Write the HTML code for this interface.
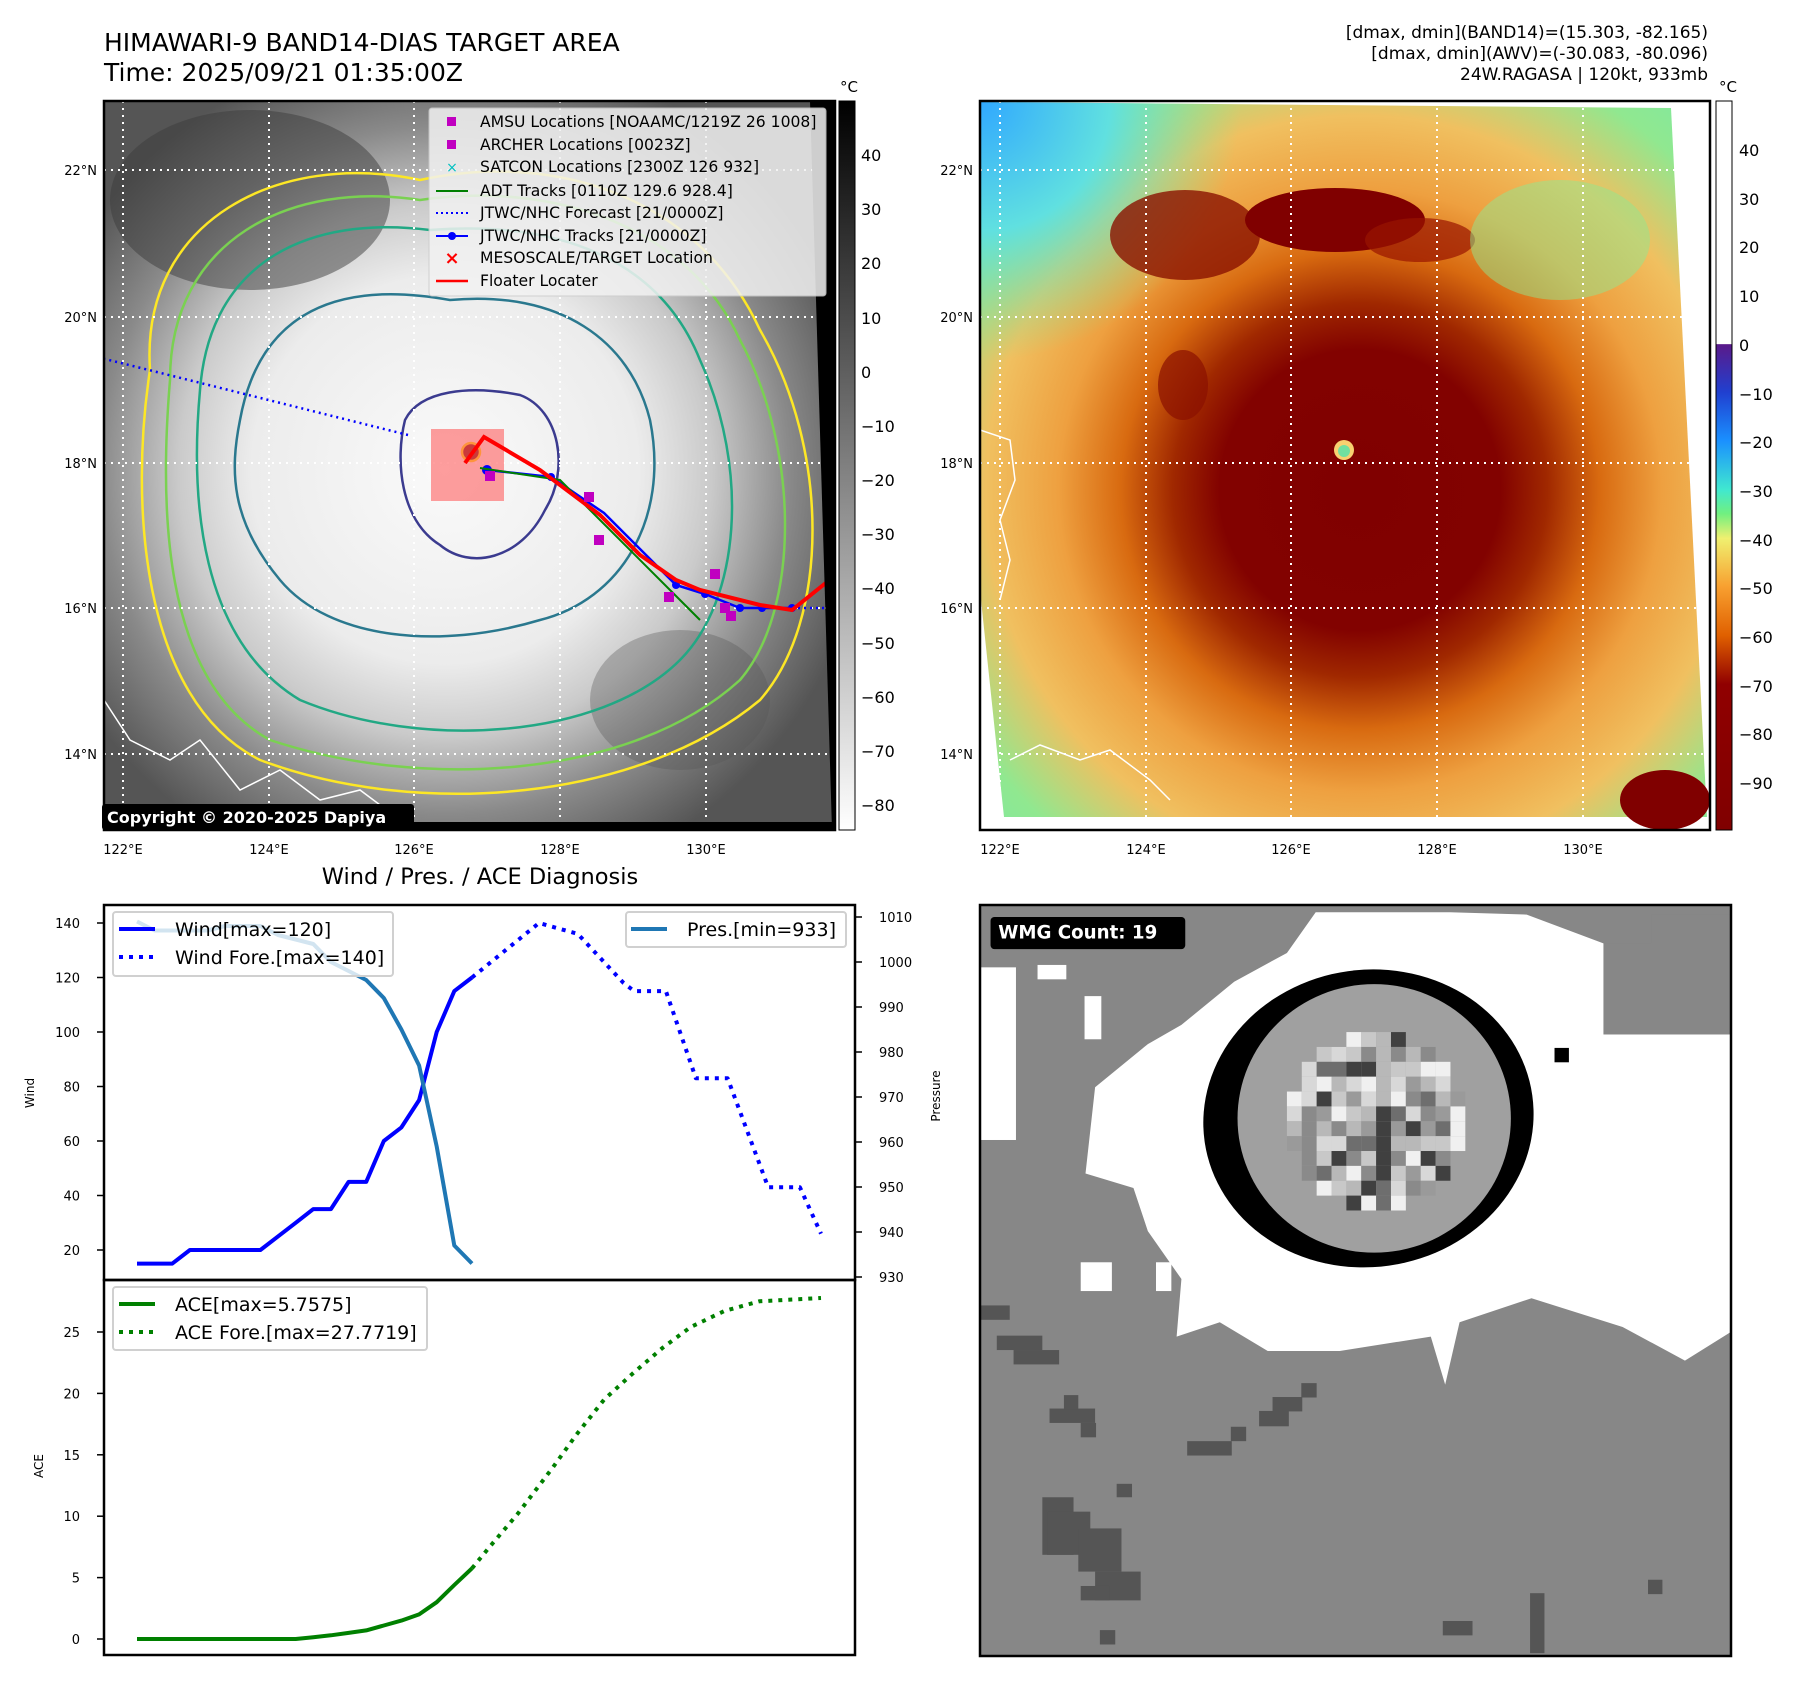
<!DOCTYPE html>
<html><head><meta charset="utf-8">
<style>
html,body{margin:0;padding:0;background:#fff;}
body{width:1797px;height:1690px;position:relative;overflow:hidden;font-family:"DejaVu Sans","Liberation Sans",sans-serif;}
svg{position:absolute;left:0;top:0;}
</style></head>
<body>
<svg width="1797" height="1690" viewBox="0 0 1797 1690" xmlns="http://www.w3.org/2000/svg" font-family="DejaVu Sans, Liberation Sans, sans-serif">
<defs>
  <clipPath id="c1"><rect x="104" y="101" width="731" height="729"/></clipPath>
  <clipPath id="c2"><rect x="980" y="101" width="730" height="729"/></clipPath>
  <radialGradient id="g1" cx="445" cy="470" r="430" gradientUnits="userSpaceOnUse">
    <stop offset="0" stop-color="#fafafa"/><stop offset="0.45" stop-color="#ececec"/>
    <stop offset="0.62" stop-color="#cacaca"/><stop offset="0.8" stop-color="#8a8a8a"/>
    <stop offset="1" stop-color="#555"/>
  </radialGradient>
  <radialGradient id="g2" cx="1360" cy="490" r="520" gradientUnits="userSpaceOnUse">
    <stop offset="0" stop-color="#800000"/><stop offset="0.27" stop-color="#820200"/>
    <stop offset="0.36" stop-color="#a02800"/><stop offset="0.46" stop-color="#d86a10"/>
    <stop offset="0.58" stop-color="#eea040"/><stop offset="0.72" stop-color="#f0c060"/>
    <stop offset="0.88" stop-color="#90e890"/><stop offset="1" stop-color="#80e8a0"/>
  </radialGradient>
  <linearGradient id="cb1" x1="0" y1="0" x2="0" y2="1">
    <stop offset="0" stop-color="#000"/><stop offset="1" stop-color="#fff"/>
  </linearGradient>
  <linearGradient id="cb2" x1="0" y1="101" x2="0" y2="830" gradientUnits="userSpaceOnUse">
    <stop offset="0" stop-color="#ffffff"/><stop offset="0.333" stop-color="#ffffff"/>
    <stop offset="0.334" stop-color="#5a1a8a"/><stop offset="0.40" stop-color="#2040d0"/>
    <stop offset="0.466" stop-color="#1a90ff"/><stop offset="0.533" stop-color="#40e8d0"/>
    <stop offset="0.566" stop-color="#70f080"/><stop offset="0.60" stop-color="#f0f070"/>
    <stop offset="0.666" stop-color="#f8a030"/><stop offset="0.733" stop-color="#e06000"/>
    <stop offset="0.80" stop-color="#900000"/><stop offset="1" stop-color="#800000"/>
  </linearGradient>
  <radialGradient id="tl2" cx="980" cy="101" r="260" gradientUnits="userSpaceOnUse">
    <stop offset="0" stop-color="#30a8ff"/><stop offset="0.5" stop-color="#60e0e0"/><stop offset="1" stop-color="#80e890" stop-opacity="0"/>
  </radialGradient>
</defs>

<!-- Titles -->
<text x="104" y="51" font-size="25" fill="#000">HIMAWARI-9 BAND14-DIAS TARGET AREA</text>
<text x="104" y="81" font-size="25" fill="#000">Time: 2025/09/21 01:35:00Z</text>
<g font-size="17" text-anchor="end" fill="#000">
  <text x="1708" y="38">[dmax, dmin](BAND14)=(15.303, -82.165)</text>
  <text x="1708" y="59">[dmax, dmin](AWV)=(-30.083, -80.096)</text>
  <text x="1708" y="80">24W.RAGASA | 120kt, 933mb</text>
</g>

<!-- MAP 1 -->
<g clip-path="url(#c1)">
  <rect x="104" y="101" width="731" height="729" fill="url(#g1)"/>
  <ellipse cx="250" cy="200" rx="140" ry="90" fill="#3c3c3c" opacity="0.5"/>
  <ellipse cx="680" cy="700" rx="90" ry="70" fill="#555" opacity="0.35"/>
  <g fill="none" stroke-width="2.5">
    <path d="M150,370 C140,220 280,150 420,180 C560,150 700,200 760,330 C830,450 830,620 760,700 C640,800 420,820 260,760 C140,700 130,500 150,370Z" stroke="#fde725"/>
    <path d="M170,380 C170,240 290,180 420,200 C560,180 690,230 740,340 C800,450 800,610 740,680 C630,780 420,790 270,740 C160,680 160,500 170,380Z" stroke="#7ad151"/>
    <path d="M200,390 C210,260 310,215 430,230 C560,220 660,260 700,360 C750,470 740,600 680,660 C600,740 420,750 300,700 C200,640 190,500 200,390Z" stroke="#22a884"/>
    <path d="M240,420 C260,310 340,280 450,300 C560,290 630,340 650,420 C670,520 620,600 540,620 C440,650 330,640 280,580 C230,520 230,470 240,420Z" stroke="#2a788e"/>
    <path d="M405,420 C420,390 470,385 520,395 C560,410 570,470 545,510 C520,560 470,570 440,545 C400,520 395,460 405,420Z" stroke="#3b3b8f"/>
    <circle cx="471" cy="452" r="9" stroke="#fde725" fill="#8b2020"/>
  </g>
  <g stroke="#fff" stroke-width="2" stroke-dasharray="2,5">
    <line x1="123" y1="101" x2="123" y2="830"/><line x1="269" y1="101" x2="269" y2="830"/>
    <line x1="414" y1="101" x2="414" y2="830"/><line x1="560" y1="101" x2="560" y2="830"/>
    <line x1="706" y1="101" x2="706" y2="830"/>
    <line x1="104" y1="170" x2="835" y2="170"/><line x1="104" y1="317" x2="835" y2="317"/>
    <line x1="104" y1="463" x2="835" y2="463"/><line x1="104" y1="608" x2="835" y2="608"/>
    <line x1="104" y1="754" x2="835" y2="754"/>
  </g>
  <rect x="431" y="429" width="73" height="72" fill="#ff5050" opacity="0.55"/>
  <polyline points="408,435 105,359" fill="none" stroke="#0000ff" stroke-width="2.5" stroke-dasharray="2,4"/>
  <polyline points="792,608 835,608" fill="none" stroke="#0000ff" stroke-width="2.5" stroke-dasharray="2,4"/>
  <polyline points="487,470 551,477 604,513 676,585 705,594 740,608 762,608 792,608" fill="none" stroke="#0000ff" stroke-width="2.5"/>
  <g fill="#0000ff">
    <circle cx="487" cy="470" r="5"/><circle cx="551" cy="477" r="4"/><circle cx="676" cy="585" r="4"/><circle cx="705" cy="594" r="4"/><circle cx="740" cy="608" r="4"/><circle cx="762" cy="608" r="4"/><circle cx="792" cy="608" r="4"/>
  </g>
  <polyline points="480,468 560,480 600,520 670,590 700,620" fill="none" stroke="#008000" stroke-width="2"/>
  <polyline points="465,463 484,437 540,470 600,515 640,555 676,580 700,590 760,605 792,610 832,578" fill="none" stroke="#ff0000" stroke-width="4"/>
  <g fill="#c000c0">
    <rect x="584" y="492" width="10" height="10"/><rect x="594" y="535" width="10" height="10"/><rect x="664" y="592" width="10" height="10"/><rect x="710" y="569" width="10" height="10"/><rect x="720" y="603" width="10" height="10"/><rect x="726" y="611" width="10" height="10"/><rect x="485" y="471" width="10" height="10"/>
  </g>
  <polygon points="810,101 835,101 835,830 832,830" fill="#000"/>
  <rect x="104" y="822" width="731" height="8" fill="#000"/>
  <polyline points="104,700 130,740 170,760 200,740 240,790 280,770 320,800 360,790 400,820" fill="none" stroke="#fff" stroke-width="1.5"/>
</g>
<rect x="104" y="101" width="731" height="729" fill="none" stroke="#000" stroke-width="2.5"/>
<g>
  <rect x="429" y="108" width="397" height="188" rx="3" fill="#f2f2f2" opacity="0.85" stroke="#ccc"/>
  <g font-size="15.6" fill="#000">
    <rect x="447" y="117" width="9" height="9" fill="#c000c0"/><text x="480" y="127">AMSU Locations [NOAAMC/1219Z 26 1008]</text>
    <rect x="447" y="140" width="9" height="9" fill="#c000c0"/><text x="480" y="150">ARCHER Locations [0023Z]</text>
    <text x="452" y="172" font-size="14" fill="#00c0c0" text-anchor="middle">×</text><text x="480" y="172">SATCON Locations [2300Z 126 932]</text>
    <line x1="436" y1="191" x2="468" y2="191" stroke="#008000" stroke-width="2"/><text x="480" y="196">ADT Tracks [0110Z 129.6 928.4]</text>
    <line x1="436" y1="213" x2="468" y2="213" stroke="#0000ff" stroke-width="2" stroke-dasharray="2,3"/><text x="480" y="218">JTWC/NHC Forecast [21/0000Z]</text>
    <line x1="436" y1="236" x2="468" y2="236" stroke="#0000ff" stroke-width="2"/><circle cx="452" cy="236" r="4" fill="#0000ff"/><text x="480" y="241">JTWC/NHC Tracks [21/0000Z]</text>
    <text x="452" y="264" font-size="18" font-weight="bold" fill="#ff0000" text-anchor="middle">×</text><text x="480" y="263">MESOSCALE/TARGET Location</text>
    <line x1="436" y1="281" x2="468" y2="281" stroke="#ff0000" stroke-width="2.5"/><text x="480" y="286">Floater Locater</text>
  </g>
</g>
<g>
  <rect x="102" y="804" width="312" height="26" rx="3" fill="#000"/>
  <text x="107" y="823" font-size="16" font-weight="bold" fill="#fff">Copyright © 2020-2025 Dapiya</text>
</g>
<g font-size="13" fill="#000" text-anchor="end">
  <text x="97" y="175">22°N</text><text x="97" y="322">20°N</text><text x="97" y="468">18°N</text><text x="97" y="613">16°N</text><text x="97" y="759">14°N</text>
</g>
<g font-size="13" fill="#000" text-anchor="middle">
  <text x="123" y="854">122°E</text><text x="269" y="854">124°E</text><text x="414" y="854">126°E</text><text x="560" y="854">128°E</text><text x="706" y="854">130°E</text>
</g>
<g>
  <rect x="839" y="101" width="16" height="729" fill="url(#cb1)" stroke="#000" stroke-width="1"/>
  <text x="849" y="92" font-size="15" text-anchor="middle">°C</text>
  <g font-size="16" fill="#000">
    <text x="861" y="161">40</text><text x="861" y="215">30</text><text x="861" y="269">20</text><text x="861" y="324">10</text><text x="861" y="378">0</text>
    <text x="861" y="432">−10</text><text x="861" y="486">−20</text><text x="861" y="540">−30</text><text x="861" y="594">−40</text>
    <text x="861" y="649">−50</text><text x="861" y="703">−60</text><text x="861" y="757">−70</text><text x="861" y="811">−80</text>
  </g>
</g>

<!-- MAP 2 -->
<g clip-path="url(#c2)">
  <rect x="980" y="101" width="730" height="729" fill="#fff"/>
  <polygon points="981,102 1671,108 1707,817 1004,817 981,600" fill="url(#g2)"/>
  <polygon points="981,102 1671,108 1707,817 1004,817 981,600" fill="url(#tl2)"/>
  <ellipse cx="1185" cy="235" rx="75" ry="45" fill="#8a1200" opacity="0.8"/>
  <ellipse cx="1335" cy="220" rx="90" ry="32" fill="#800000"/>
  <ellipse cx="1420" cy="240" rx="55" ry="22" fill="#981400" opacity="0.7"/>
  <ellipse cx="1183" cy="385" rx="25" ry="35" fill="#8a1000" opacity="0.7"/>
  <ellipse cx="1665" cy="800" rx="45" ry="30" fill="#800000"/>
  <ellipse cx="1560" cy="240" rx="90" ry="60" fill="#90e890" opacity="0.5"/>
  <circle cx="1344" cy="450" r="10" fill="#f8d070"/><circle cx="1344" cy="451" r="6" fill="#70e0a0"/>
  <g stroke="#fff" stroke-width="2" stroke-dasharray="2,5">
    <line x1="1000" y1="101" x2="1000" y2="830"/><line x1="1146" y1="101" x2="1146" y2="830"/>
    <line x1="1291" y1="101" x2="1291" y2="830"/><line x1="1437" y1="101" x2="1437" y2="830"/>
    <line x1="1583" y1="101" x2="1583" y2="830"/>
    <line x1="980" y1="170" x2="1710" y2="170"/><line x1="980" y1="317" x2="1710" y2="317"/>
    <line x1="980" y1="463" x2="1710" y2="463"/><line x1="980" y1="608" x2="1710" y2="608"/>
    <line x1="980" y1="754" x2="1710" y2="754"/>
  </g>
  <polyline points="980,430 1010,440 1015,480 1000,520 1010,560 1000,600" fill="none" stroke="#fff" stroke-width="1.5"/>
  <polyline points="1010,760 1040,745 1080,760 1110,750 1150,780 1170,800" fill="none" stroke="#fff" stroke-width="1.5"/>
</g>
<rect x="980" y="101" width="730" height="729" fill="none" stroke="#000" stroke-width="2.5"/>
<g font-size="13" fill="#000" text-anchor="end">
  <text x="973" y="175">22°N</text><text x="973" y="322">20°N</text><text x="973" y="468">18°N</text><text x="973" y="613">16°N</text><text x="973" y="759">14°N</text>
</g>
<g font-size="13" fill="#000" text-anchor="middle">
  <text x="1000" y="854">122°E</text><text x="1146" y="854">124°E</text><text x="1291" y="854">126°E</text><text x="1437" y="854">128°E</text><text x="1583" y="854">130°E</text>
</g>
<g>
  <rect x="1716" y="101" width="16" height="729" fill="url(#cb2)" stroke="#000" stroke-width="1"/>
  <text x="1728" y="92" font-size="15" text-anchor="middle">°C</text>
  <g font-size="16" fill="#000">
    <text x="1739" y="156">40</text><text x="1739" y="205">30</text><text x="1739" y="253">20</text><text x="1739" y="302">10</text><text x="1739" y="351">0</text>
    <text x="1739" y="400">−10</text><text x="1739" y="448">−20</text><text x="1739" y="497">−30</text><text x="1739" y="546">−40</text>
    <text x="1739" y="594">−50</text><text x="1739" y="643">−60</text><text x="1739" y="692">−70</text><text x="1739" y="740">−80</text><text x="1739" y="789">−90</text>
  </g>
</g>

<!-- WMG panel -->
<g>
  <svg x="980" y="905" width="751" height="751" viewBox="0 0 1566 1566">
    <rect x="0" y="0" width="1566" height="1566" fill="#878787"/>
    <polygon points="700,15 980,15 1140,20 1300,80 1400,170 1500,240 1566,270 1566,890 1470,950 1340,880 1150,820 1000,870 970,1000 940,900 750,930 600,930 500,870 410,900 420,780 350,680 320,590 220,560 240,380 350,290 420,250 530,160 640,100" fill="#fff"/>
    <rect x="0" y="130" width="75" height="360" fill="#fff"/><rect x="120" y="125" width="60" height="30" fill="#fff"/>
    <rect x="218" y="190" width="35" height="90" fill="#fff"/><rect x="210" y="745" width="65" height="60" fill="#fff"/><rect x="367" y="745" width="32" height="60" fill="#fff"/>
    <rect x="1300" y="80" width="266" height="190" fill="#878787"/><rect x="1400" y="20" width="166" height="60" fill="#878787"/>
    <ellipse cx="810" cy="445" rx="345" ry="310" fill="#000" transform="rotate(-8 810 445)"/>
    <ellipse cx="822" cy="445" rx="285" ry="280" fill="#a0a0a0"/>
    <g id="wmgcells"></g>
    <rect x="1198" y="298" width="30" height="30" fill="#000"/>
    <g fill="#555">
      <rect x="0" y="835" width="62" height="30"/><rect x="35" y="898" width="95" height="30"/><rect x="70" y="928" width="95" height="30"/>
      <rect x="145" y="1050" width="95" height="30"/><rect x="210" y="1080" width="32" height="30"/><rect x="175" y="1022" width="30" height="30"/>
      <rect x="432" y="1118" width="93" height="30"/><rect x="523" y="1088" width="32" height="30"/><rect x="582" y="1055" width="62" height="32"/><rect x="610" y="1026" width="62" height="30"/><rect x="670" y="997" width="32" height="30"/>
      <rect x="130" y="1235" width="65" height="120"/><rect x="140" y="1265" width="90" height="90"/><rect x="205" y="1300" width="90" height="90"/><rect x="240" y="1390" width="95" height="60"/><rect x="210" y="1420" width="60" height="30"/>
      <rect x="285" y="1207" width="32" height="28"/><rect x="250" y="1512" width="32" height="30"/><rect x="965" y="1493" width="62" height="30"/><rect x="1147" y="1435" width="30" height="125"/><rect x="1393" y="1407" width="30" height="30"/>
    </g>
    <rect x="22" y="25" width="406" height="67" rx="8" fill="#000"/>
    <text x="38" y="70" font-size="38" font-weight="bold" fill="#fff" font-family="DejaVu Sans, Liberation Sans, sans-serif">WMG Count: 19</text>
  </svg>
  <rect x="980" y="905" width="751" height="751" fill="none" stroke="#000" stroke-width="2.5"/>
</g>

<!-- Wind / Pres / ACE chart -->
<text x="480" y="884" font-size="22.5" text-anchor="middle">Wind / Pres. / ACE Diagnosis</text>
<g id="chart"></g>
<rect x="104" y="905" width="751" height="375" fill="none" stroke="#000" stroke-width="2.5"/>
<rect x="104" y="1280" width="751" height="375" fill="none" stroke="#000" stroke-width="2.5"/>
<text transform="translate(34,1093) rotate(-90)" font-size="12" text-anchor="middle">Wind</text>
<text transform="translate(940,1096) rotate(-90)" font-size="12" text-anchor="middle">Pressure</text>
<text transform="translate(43,1466) rotate(-90)" font-size="12" text-anchor="middle">ACE</text>
</svg>

<script>
// Observed series (index = time step)
const windObs = [15,15,15,20,20,20,20,20,25,30,35,35,45,45,60,65,75,100,115,120];
const presObs = [1009,1007,1007,1007,1007,1008,1008,1008,1006,1005,1004,1000,998,996,992,985,977,959,937,933];
const aceObs = [0,0,0,0,0,0,0,0,0,0,0.15,0.3,0.5,0.7,1.1,1.5,2.0,3.0,4.4,5.76];
// Forecast series (time in step units)
const windForeT = [19,22.8,25,27.6,28.2,30,31.7,33.5,35.8,37.6,38.8];
const windFore = [120,140,136,118,115,115,83,83,43,43,26];
const aceForeT = [19,20,21.6,23.6,24.9,26.5,28.1,29.8,31.4,33.3,35.3,38.8];
const aceFore = [5.76,7.5,10.2,14,16.6,19.5,21.6,23.7,25.4,26.7,27.5,27.77];
const windTicks = [20,40,60,80,100,120,140];
const presTicks = [930,940,950,960,970,980,990,1000,1010];
const aceTicks = [0,5,10,15,20,25];

const NS = 'http://www.w3.org/2000/svg';
const g = document.getElementById('chart');
const xS = i => 137 + i * 17.63;
const yW = v => 923 + (140 - v) * 2.725;
const yP = p => 917 + (1010 - p) * 4.5;
const yA = v => 1639 - v * 12.28;

function mk(tag, attrs) { const e = document.createElementNS(NS, tag); for (const k in attrs) e.setAttribute(k, attrs[k]); g.appendChild(e); return e; }
function line(xs, ys, color, dash) {
  const pts = xs.map((x, i) => x.toFixed(1) + ',' + ys[i].toFixed(1)).join(' ');
  const e = mk('polyline', {points: pts, fill: 'none', stroke: color, 'stroke-width': 4, 'stroke-linejoin': 'round'});
  if (dash) e.setAttribute('stroke-dasharray', '4 6');
  return e;
}
function txt(x, y, s, size, anchor) { const e = mk('text', {x: x, y: y, 'font-size': size, 'text-anchor': anchor || 'start'}); e.textContent = s; return e; }

windTicks.forEach(v => {
  const t = mk('line', {x1: 97, x2: 104, y1: yW(v), y2: yW(v), stroke: '#000', 'stroke-width': 1.5});
  
  
  const l = txt(80, yW(v) + 5, String(v), 13, 'end');
  
  
});
presTicks.forEach(v => {
  const t = mk('line', {x1: 855, x2: 862, y1: yP(v), y2: yP(v), stroke: '#000', 'stroke-width': 1.5});
  
  
  const l = txt(879, yP(v) + 5, String(v), 13, 'start');
  
  
});
aceTicks.forEach(v => {
  const t = mk('line', {x1: 97, x2: 104, y1: yA(v), y2: yA(v), stroke: '#000', 'stroke-width': 1.5});
  
  
  const l = txt(80, yA(v) + 5, String(v), 13, 'end');
  
  
});

let e;
e = line(windObs.map((v, i) => xS(i)), windObs.map(yW), '#0000ff');


e = line(windForeT.map(xS), windFore.map(yW), '#0000ff', true);


e = line(presObs.map((v, i) => xS(i)), presObs.map(yP), '#1f77b4');


e = line(aceObs.map((v, i) => xS(i)), aceObs.map(yA), '#008000');


e = line(aceForeT.map(xS), aceFore.map(yA), '#008000', true);



function legendBox(x, y, w, h, name) {
  const r = mk('rect', {x: x, y: y, width: w, height: h, rx: 3, fill: '#fff', 'fill-opacity': 0.8, stroke: '#d0d0d0', 'stroke-width': 2});
  
  
}
function legendEntry(y, x0, color, dash, label, name) {
  const l = mk('line', {x1: x0, x2: x0 + 36, y1: y, y2: y, stroke: color, 'stroke-width': 4});
  if (dash) l.setAttribute('stroke-dasharray', '4 6');
  
  
  const t = txt(x0 + 56, y + 7, label, 19);
  
  
}
legendBox(113, 912, 280, 64, 'wind-legend');
legendEntry(929, 119, '#0000ff', false, 'Wind[max=120]', 'legend-wind');
legendEntry(957, 119, '#0000ff', true, 'Wind Fore.[max=140]', 'legend-wind-forecast');
legendBox(626, 912, 220, 35, 'pressure-legend');
legendEntry(929, 631, '#1f77b4', false, 'Pres.[min=933]', 'legend-pressure');
legendBox(113, 1287, 314, 63, 'ace-legend');
legendEntry(1304, 119, '#008000', false, 'ACE[max=5.7575]', 'legend-ace');
legendEntry(1332, 119, '#008000', true, 'ACE Fore.[max=27.7719]', 'legend-ace-forecast');

const cg = document.getElementById('wmgcells');
const shades = ['#6e6e6e','#9a9a9a','#b8b8b8','#d8d8d8','#f0f0f0','#404040','#8a8a8a','#c8c8c8'];
for (let r = 0; r < 12; r++) for (let c = 0; c < 12; c++) {
  const dx = c - 5.5, dy = r - 5.5;
  if (dx*dx + dy*dy > 34) continue;
  const rc = document.createElementNS(NS, 'rect');
  rc.setAttribute('x', 640 + c * 31); rc.setAttribute('y', 265 + r * 31);
  rc.setAttribute('width', 31); rc.setAttribute('height', 31);
  rc.setAttribute('fill', shades[(r * 7 + c * 3 + (r*c)%5) % shades.length]);
  cg.appendChild(rc);
}
</script>
</body></html>
